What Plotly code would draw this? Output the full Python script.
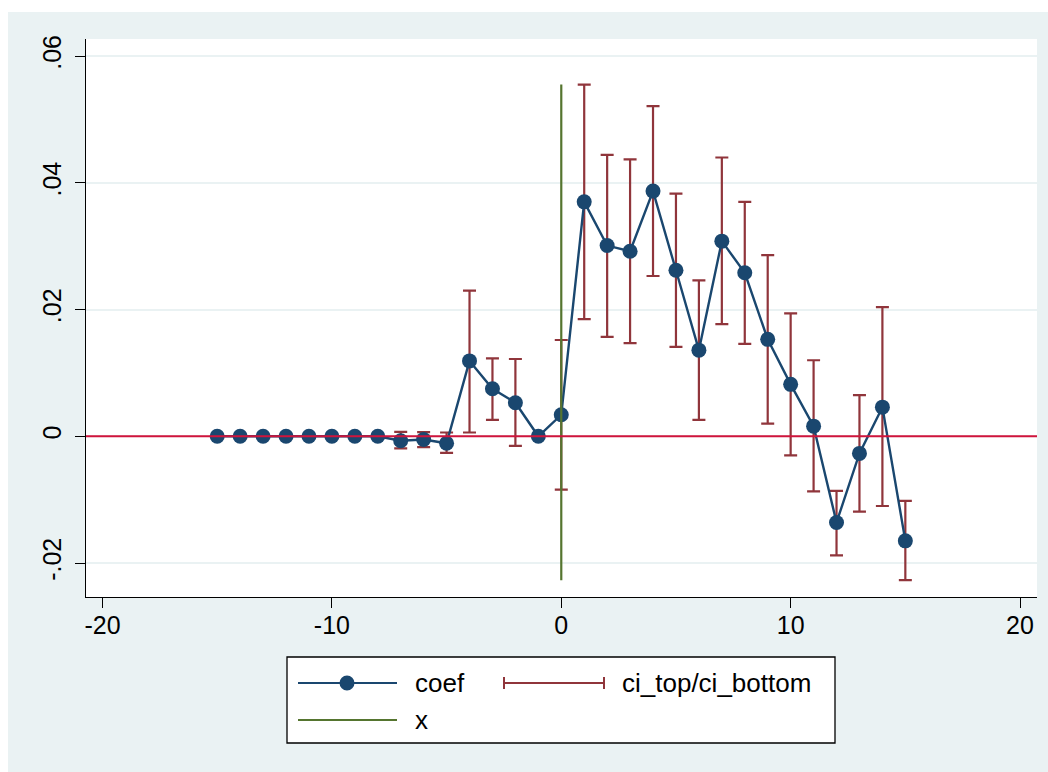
import plotly.graph_objects as go

# ---- data ----
periods = [-15, -14, -13, -12, -11, -10, -9, -8, -7, -6, -5, -4, -3, -2, -1,
           0, 1, 2, 3, 4, 5, 6, 7, 8, 9, 10, 11, 12, 13, 14, 15]
coef = [0.0, 0.0, 0.0, 0.0, 0.0, 0.0, 0.0, 0.0, -0.0007, -0.0005, -0.0011,
        0.0119, 0.0075, 0.0053, 0.0, 0.0034, 0.0370, 0.0301, 0.0292, 0.0387,
        0.0262, 0.0136, 0.0308, 0.0258, 0.0153, 0.0082, 0.0016, -0.0136,
        -0.0027, 0.0046, -0.0165]
ci_top = [0.0, 0.0, 0.0, 0.0, 0.0, 0.0, 0.0, 0.0, 0.0007, 0.00065, 0.0006,
          0.0230, 0.0123, 0.0122, 0.0, 0.0152, 0.0555, 0.0444, 0.0437, 0.0521,
          0.0383, 0.0246, 0.0440, 0.0370, 0.0286, 0.0194, 0.0120, -0.0086,
          0.0065, 0.0204, -0.0102]
ci_bottom = [0.0, 0.0, 0.0, 0.0, 0.0, 0.0, 0.0, 0.0, -0.0019, -0.0017, -0.0026,
             0.0006, 0.0026, -0.0015, 0.0, -0.0084, 0.0185, 0.0157, 0.0147, 0.0253,
             0.0141, 0.0026, 0.0177, 0.0146, 0.0020, -0.0030, -0.0087, -0.0188,
             -0.0119, -0.0110, -0.0227]
x_event = 0
y_ref = 0

x_ticks = [-20, -10, 0, 10, 20]
x_ticktext = ["-20", "-10", "0", "10", "20"]
y_ticks = [-0.02, 0, 0.02, 0.04, 0.06]
y_ticktext = ["-.02", "0", ".02", ".04", ".06"]

# ---- styling ----
NAVY = "#1A476F"
MAROON = "#90353B"
GREEN = "#55752F"
RED = "#D0143C"
BG = "#EAF2F3"
FONT = "Liberation Sans, Arial, Helvetica, sans-serif"

W, H = 1048, 772
ML, MR, MT, MB = 86, 11, 39, 175
PW, PH = W - ML - MR, H - MT - MB


def px(x):
    return (x - ML) / PW


def py(y):
    return (H - MB - y) / PH


fig = go.Figure()

# confidence intervals
fig.add_trace(go.Scatter(
    x=periods, y=coef, mode="markers",
    marker=dict(size=1, color="rgba(0,0,0,0)"),
    error_y=dict(type="data", symmetric=False,
                 array=[t - c for t, c in zip(ci_top, coef)],
                 arrayminus=[c - b for c, b in zip(coef, ci_bottom)],
                 color=MAROON, thickness=2.2, width=6.5),
    name="ci_top/ci_bottom", showlegend=False, hoverinfo="skip"))

# coefficients
fig.add_trace(go.Scatter(
    x=periods, y=coef, mode="lines+markers",
    line=dict(color=NAVY, width=2.4),
    marker=dict(color=NAVY, size=15),
    name="coef", showlegend=False))

# event line
fig.add_trace(go.Scatter(
    x=[x_event, x_event], y=[min(ci_bottom), max(ci_top)], mode="lines",
    line=dict(color=GREEN, width=2.2), name="x", showlegend=False))

shapes = []
# white frame strips outside the graph region
shapes.append(dict(type="rect", xref="paper", yref="paper",
                   x0=px(-5), x1=px(8), y0=py(H + 5), y1=py(-5),
                   fillcolor="white", line=dict(width=0), layer="below"))
shapes.append(dict(type="rect", xref="paper", yref="paper",
                   x0=px(-5), x1=px(W + 5), y0=py(12), y1=py(-5),
                   fillcolor="white", line=dict(width=0), layer="below"))
# zero reference line
shapes.append(dict(type="line", xref="paper", yref="y", x0=0, x1=1,
                   y0=y_ref, y1=y_ref, line=dict(color=RED, width=2),
                   layer="above"))

# manual legend
shapes.append(dict(type="rect", xref="paper", yref="paper",
                   x0=px(287), x1=px(835), y0=py(743), y1=py(657),
                   fillcolor="white", line=dict(color="black", width=1.3)))
r1, r2 = 683, 720
shapes.append(dict(type="line", xref="paper", yref="paper",
                   x0=px(298), x1=px(397), y0=py(r1), y1=py(r1),
                   line=dict(color=NAVY, width=2)))
shapes.append(dict(type="circle", xref="paper", yref="paper",
                   x0=px(347 - 7.5), x1=px(347 + 7.5), y0=py(r1 + 7.5), y1=py(r1 - 7.5),
                   fillcolor=NAVY, line=dict(color=NAVY, width=0)))
shapes.append(dict(type="line", xref="paper", yref="paper",
                   x0=px(503), x1=px(605), y0=py(r1), y1=py(r1),
                   line=dict(color=MAROON, width=2)))
for xc in (504, 604):
    shapes.append(dict(type="line", xref="paper", yref="paper",
                       x0=px(xc), x1=px(xc), y0=py(r1 - 6), y1=py(r1 + 6),
                       line=dict(color=MAROON, width=2)))
shapes.append(dict(type="line", xref="paper", yref="paper",
                   x0=px(298), x1=px(397), y0=py(r2), y1=py(r2),
                   line=dict(color=GREEN, width=2.2)))

annotations = []
for label, xx, yy in (("coef", 413, r1), ("ci_top/ci_bottom", 620, r1), ("x", 413, r2)):
    annotations.append(dict(text=label, xref="paper", yref="paper",
                            x=px(xx), y=py(yy), xanchor="left", yanchor="middle",
                            showarrow=False, font=dict(size=26, color="black", family=FONT)))

fig.update_layout(
    width=W, height=H,
    margin=dict(l=ML, r=MR, t=MT, b=MB, pad=0),
    paper_bgcolor=BG, plot_bgcolor="white",
    font=dict(family=FONT, size=25, color="black"),
    showlegend=False,
    shapes=shapes, annotations=annotations,
    xaxis=dict(range=[-20.72, 20.74], tickvals=x_ticks, ticktext=x_ticktext,
               ticks="outside", ticklabelstandoff=-4,
               ticklen=10, tickwidth=1.3, tickcolor="black",
               showline=True, linecolor="black", linewidth=1.3,
               showgrid=False, zeroline=False,
               tickfont=dict(size=25, family=FONT)),
    yaxis=dict(range=[-0.02536, 0.0627], tickvals=y_ticks, ticktext=y_ticktext,
               tickangle=-90, ticks="outside", ticklen=10, tickwidth=1.3,
               ticklabelstandoff=4,
               tickcolor="black", showline=True, linecolor="black", linewidth=1.3,
               showgrid=True, gridcolor=BG, gridwidth=2, zeroline=False,
               tickfont=dict(size=25, family=FONT)),
)

fig.write_html("out.html")
